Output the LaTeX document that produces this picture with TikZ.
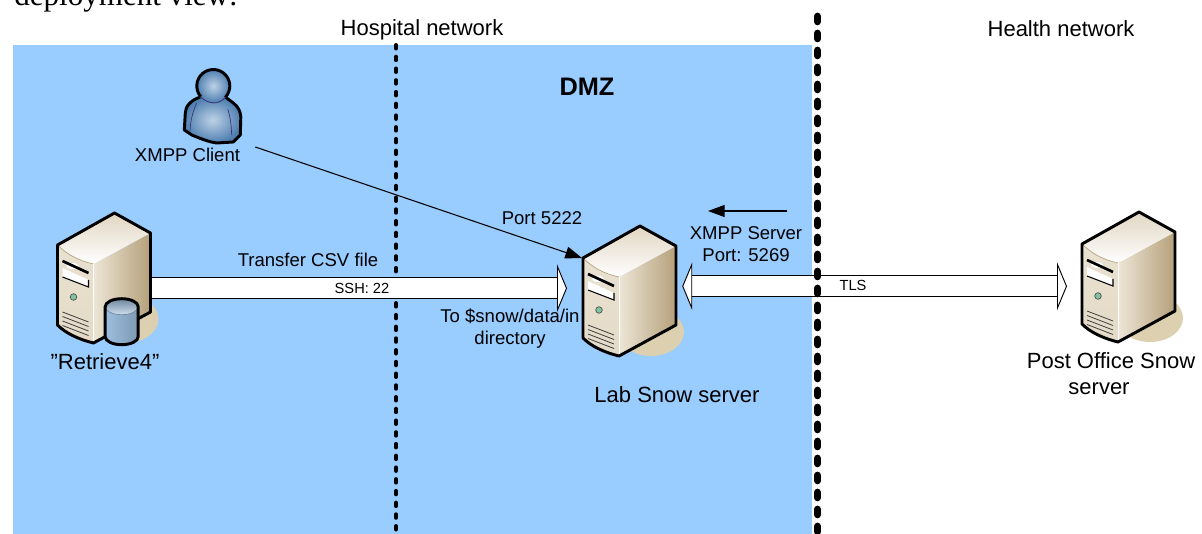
\documentclass[tikz,border=0pt]{standalone}
\usepackage{fontspec}
\setmainfont{Liberation Sans}
\newfontfamily\headfont{Liberation Serif}
\usetikzlibrary{arrows.meta,positioning}
\definecolor{zoneblue}{HTML}{99CCFF}
\definecolor{shadowtan}{HTML}{DDD0B0}
\definecolor{casedark}{HTML}{B5A07A}
\definecolor{caselight}{HTML}{F3EDE0}
\definecolor{personblue}{HTML}{4F7FB0}
\definecolor{personlight}{HTML}{BDD2E6}
\definecolor{drumblue}{HTML}{9DBFDF}
\definecolor{buttongreen}{HTML}{7FC4A0}
\definecolor{personline}{HTML}{3A2F78}
\tikzset{
  biglbl/.style={inner sep=0pt,font=\fontsize{16.5}{19.5}\selectfont,align=center},
  midlbl/.style={inner sep=0pt,font=\fontsize{13.9}{16.5}\selectfont,align=center},
  smalllbl/.style={inner sep=0pt,font=\fontsize{11}{13}\selectfont},
  hostbox/.style={inner sep=0pt,minimum width=69.75pt,minimum height=97.5pt,anchor=north west},
  bigarrow/.style={draw=black,line width=.7pt,double=white,double distance=15pt},
  thinfence/.style={line width=3pt,line cap=round,dash pattern=on 2.6pt off 6.2pt},
  thickfence/.style={line width=5.5pt,line cap=round,dash pattern=on 4pt off 8.75pt},
  tower/.pic={
    \fill[shadowtan] (68,106) ellipse (33 and 24);
    \path[left color=caselight!90!casedark,middle color=caselight,right color=casedark] (36,51) -- (93,20) -- (93,99) -- (36,130) -- cycle;
    \path[top color=caselight!85!casedark,bottom color=caselight!75!casedark] (0,32) .. controls (10,42) and (22,48) .. (36,51) -- (36,130) .. controls (20,126) and (8,120) .. (0,112) -- cycle;
    \path[top color=caselight!70!casedark,bottom color=white] (0,32) -- (57,0) -- (93,20) -- (36,51) .. controls (22,48) and (10,42) .. (0,32);
    \draw[casedark,line width=.5pt] (0,32) .. controls (10,42) and (22,48) .. (36,51);
    \draw[white,line width=.5pt] (36,51) -- (36,130);
    % slots and button
    \fill[white] (15,53) ellipse (6 and 3);
    \draw[line width=2pt] (5,48) -- (31,60);
    \fill[white] (5,55) -- (31,67) -- (31,74) -- (5,64) -- cycle;
    \draw[line width=.8pt] (5,64) -- (31,74) -- (31,67);
    \fill[buttongreen,draw=black!70,line width=.5pt] (16,84) circle (3.3);
    \foreach \i in {0,1,2,3}
      \draw[black!75,line width=.6pt] (5,99+\i*4.5) -- (31,109+\i*4.5);
    \draw[line width=2.2pt,line join=round] (0,32) -- (57,0) -- (93,20) -- (93,99) -- (36,130) .. controls (20,126) and (8,120) .. (0,112) -- cycle;
  },
  drum/.pic={
    \path[left color=drumblue,middle color=white,right color=drumblue!80!black] (-16.5,0) -- (-16.5,30) arc[start angle=180,end angle=0,x radius=16.5,y radius=8] -- (16.5,0) -- cycle;
    \path[top color=drumblue!70!black,bottom color=drumblue!50!white] (0,0) ellipse (16.5 and 8);
    \draw[drumblue!70!black,line width=.5pt] (-16.5,0) arc[start angle=180,end angle=0,x radius=16.5,y radius=8];
    \draw[line width=2.2pt] (-16.5,30) -- (-16.5,0) arc[start angle=180,end angle=360,x radius=16.5,y radius=8] -- (16.5,30) arc[start angle=0,end angle=180,x radius=16.5,y radius=8];
  },
  person/.pic={
    \draw[line width=2.2pt,line join=round,inner color=personlight,outer color=personblue] (-13,11) .. controls (-22,14) and (-28,20) .. (-28,27) -- (-29,44) -- (-21.5,49) .. controls (-14,52) and (-5,56) .. (3.5,57) -- (20,56) -- (27,49) -- (27.5,31) .. controls (27,25) and (25,21) .. (20,17) -- (12,11);
    \fill[inner color=personlight,outer color=personblue] (0,0) circle (16.5);
    \draw[line width=2.2pt] (140:16.5) arc[start angle=140,end angle=403,radius=16.5];
    \draw[personline,line width=.5pt] (140:16.5) .. controls (-5,19) and (6,19) .. (43:16.5);
    \draw[personline,line width=.5pt] (-16.6,17.3) .. controls (-21,26) and (-23,36) .. (-23.3,45.7);
    \draw[personline,line width=.5pt] (14.4,23.3) .. controls (17,30) and (18,40) .. (18.4,49);
  }
}
\begin{document}
\begin{tikzpicture}[x=.75pt,y=-.75pt]
  \useasboundingbox (0,0) rectangle (1202,534);
  \fill[zoneblue] (13,45) rectangle (812,534);
  \node[anchor=base west,inner sep=0pt,font=\headfont\fontsize{23.3}{28}\selectfont] (caption) at (14,5.5) {deployment view:};
  \node[biglbl] (hospital) at (422,30) {Hospital network};
  \node[biglbl] (health) at (1061,29) {Health network};
  \node[biglbl,font=\bfseries\fontsize{19}{22}\selectfont] (dmz) at (587,87) {DMZ};
  \draw[thinfence] (396,45) -- (396,534);
  % hosts
  \node[hostbox] (retrieve) at (57.5,213) {};
  \node[hostbox] (lab) at (583,226) {};
  \node[hostbox] (postoffice) at (1082,212) {};
  \node[midlbl] (client) at (187.5,155) {XMPP Client};
  \coordinate (dirstart) at (787,211);
  \coordinate (dirend) at (708,211);
  % connectors
  \draw[bigarrow,-{Triangle[width=36pt,length=7.5pt,fill=white,line width=.7pt]}] ([yshift=-7.5pt]retrieve.east) -- ([shift={(-16,-3)}]lab.west);
  \draw[bigarrow,{Triangle[width=36pt,length=7.5pt,fill=white,line width=.7pt]}-{Triangle[width=36pt,length=7.5pt,fill=white,line width=.7pt]}] ([shift={(5.7,-5)}]lab.east) -- ([shift={(-15,9)}]postoffice.west);
  \draw[line width=.8pt,-{Triangle[width=9pt,length=12.5pt]}] (dirstart) -- (dirend);
  \draw[line width=.8pt,-{Triangle[width=9pt,length=12.5pt]}] ([shift={(15,-8)}]client.east) -- ([shift={(-1,32)}]lab.north west);
  \draw[thickfence] (817.5,16.3) -- (817.5,534);
  \pic at (retrieve.north west) {tower};
  \pic at (lab.north west) {tower};
  \pic at (postoffice.north west) {tower};
  \pic at ([shift={(64.2,93.7)}]retrieve.north west) {drum};
  \pic at (213.3,86) {person};
  % labels
  \node[biglbl] (retrievelbl) at (105,362) {”Retrieve4”};
  \node[biglbl] (lablbl) at (677,395) {Lab Snow server};
  \node[biglbl] (postlbl) at (1111,374) {Post Office Snow\\server\hspace*{18pt}};
  \node[midlbl] (port) at (542,218) {Port 5222};
  \node[midlbl] (xmppsrv) at (746,244) {XMPP Server\\Port: 5269};
  \node[midlbl] (transfer) at (308,260) {Transfer CSV file};
  \node[midlbl] (todir) at (510,328.5) {To \$snow/data/in\\directory};
  \node[smalllbl] (ssh) at (362,288) {SSH: 22};
  \node[smalllbl] (tls) at (853,285) {TLS};
\end{tikzpicture}
\end{document}
